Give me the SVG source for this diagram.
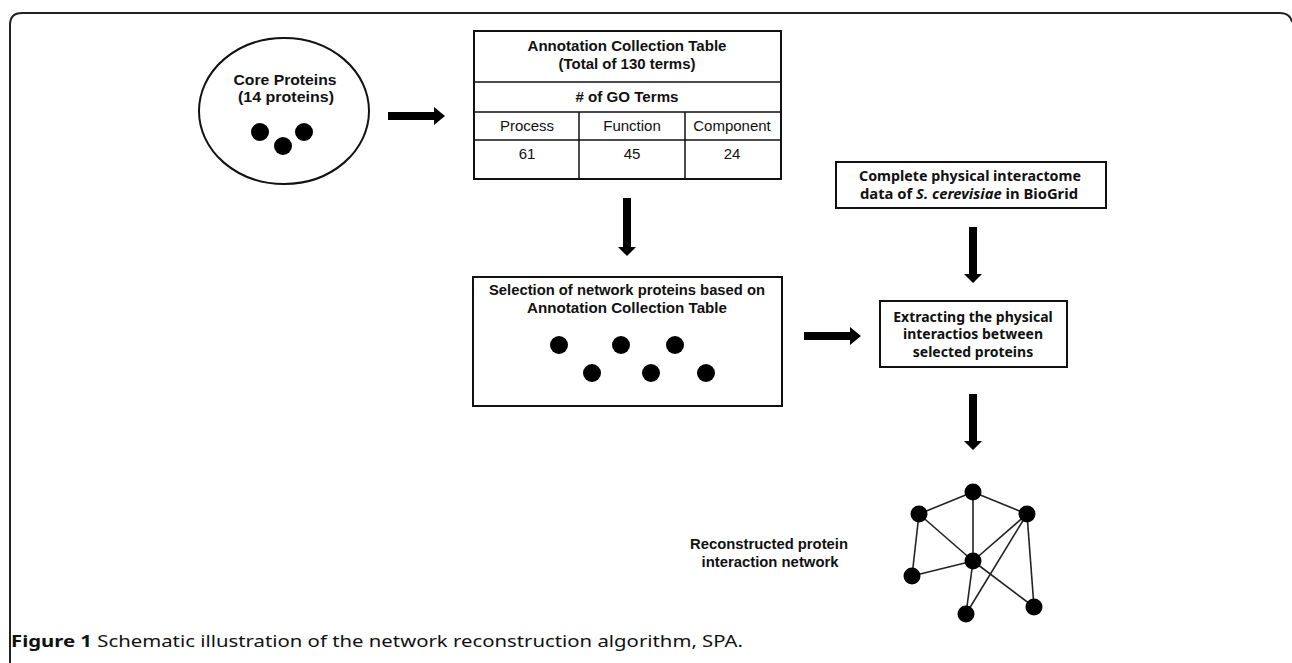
<svg xmlns="http://www.w3.org/2000/svg" width="1292" height="663" viewBox="0 0 1292 663">
<style>
.box{fill:#fff;stroke:#111;stroke-width:2}
.ln{stroke:#111;stroke-width:1.5;fill:none}
.b{font-family:"Liberation Sans",Arial,sans-serif;font-weight:bold;font-size:15px;fill:#111;text-anchor:middle}
.r{font-family:"Liberation Sans",Arial,sans-serif;font-size:15px;fill:#111;text-anchor:middle}
.m{font-family:"Noto Sans","Open Sans",sans-serif;font-weight:bold;font-size:14px;fill:#111;text-anchor:middle}
.dot{fill:#000}
.arr{fill:#000}
.edge{stroke:#222;stroke-width:1.6}
</style>
<rect x="0" y="0" width="1292" height="663" fill="#fff"/>
<path d="M10,700 V25 Q10,13 22,13 H1280 Q1290,13 1292,22" fill="none" stroke="#222" stroke-width="2"/>

<g id="core-proteins">
<ellipse cx="284" cy="111" rx="85" ry="73" class="box"/>
<text x="285" y="85" class="b" font-size="17" textLength="103" lengthAdjust="spacingAndGlyphs">Core Proteins</text>
<text x="286" y="102" class="b" font-size="17" textLength="96" lengthAdjust="spacingAndGlyphs">(14 proteins)</text>
<circle cx="260" cy="132" r="9" class="dot"/>
<circle cx="304" cy="132" r="9" class="dot"/>
<circle cx="283" cy="146" r="9" class="dot"/>
</g>

<g id="annotation-table">
<rect x="474" y="31" width="307" height="148" class="box"/>
<line x1="474" y1="82" x2="781" y2="82" class="ln"/>
<line x1="474" y1="112" x2="781" y2="112" class="ln"/>
<line x1="474" y1="140" x2="781" y2="140" class="ln"/>
<line x1="579" y1="112" x2="579" y2="179" class="ln"/>
<line x1="685" y1="112" x2="685" y2="179" class="ln"/>
<text x="627" y="51" class="b" textLength="199" lengthAdjust="spacingAndGlyphs">Annotation Collection Table</text>
<text x="627" y="69" class="b" textLength="137" lengthAdjust="spacingAndGlyphs">(Total of 130 terms)</text>
<text x="627" y="102" class="b" textLength="103" lengthAdjust="spacingAndGlyphs"># of GO Terms</text>
<text x="527" y="131" class="r">Process</text>
<text x="632" y="131" class="r">Function</text>
<text x="732" y="131" class="r">Component</text>
<text x="527" y="159" class="r">61</text>
<text x="632" y="159" class="r">45</text>
<text x="732" y="159" class="r">24</text>
</g>

<g id="selection">
<rect x="473" y="277" width="309" height="129" class="box"/>
<text x="627" y="295" class="b" textLength="276" lengthAdjust="spacingAndGlyphs">Selection of network proteins based on</text>
<text x="627" y="313" class="b" textLength="200" lengthAdjust="spacingAndGlyphs">Annotation Collection Table</text>
<circle cx="559" cy="345" r="9" class="dot"/>
<circle cx="621" cy="345" r="9" class="dot"/>
<circle cx="675" cy="345" r="9" class="dot"/>
<circle cx="592" cy="373" r="9" class="dot"/>
<circle cx="651" cy="373" r="9" class="dot"/>
<circle cx="706" cy="373" r="9" class="dot"/>
</g>

<g id="biogrid">
<rect x="836" y="162" width="270" height="46" class="box"/>
<text x="970" y="181" class="m" textLength="222" lengthAdjust="spacingAndGlyphs">Complete physical interactome</text>
<text x="969" y="199" class="m" textLength="218" lengthAdjust="spacingAndGlyphs">data of <tspan font-style="italic">S. cerevisiae</tspan>  in BioGrid</text>
</g>

<g id="extracting">
<rect x="880" y="301" width="187" height="66" class="box"/>
<text x="973" y="322" class="m">Extracting the physical</text>
<text x="973" y="339" class="m">interactios between</text>
<text x="973" y="357" class="m">selected proteins</text>
</g>

<g id="network">
<g class="edge">
<line x1="973" y1="492" x2="919" y2="514"/>
<line x1="973" y1="492" x2="1027" y2="514"/>
<line x1="973" y1="492" x2="973" y2="561"/>
<line x1="919" y1="514" x2="973" y2="561"/>
<line x1="919" y1="514" x2="912" y2="576"/>
<line x1="912" y1="576" x2="973" y2="561"/>
<line x1="973" y1="561" x2="1027" y2="514"/>
<line x1="973" y1="561" x2="966" y2="614"/>
<line x1="973" y1="561" x2="1034" y2="607"/>
<line x1="1027" y1="514" x2="966" y2="614"/>
<line x1="1027" y1="514" x2="1034" y2="607"/>
</g>
<circle cx="973" cy="492" r="8.5" class="dot"/>
<circle cx="919" cy="514" r="8.5" class="dot"/>
<circle cx="1027" cy="514" r="8.5" class="dot"/>
<circle cx="973" cy="561" r="8.5" class="dot"/>
<circle cx="912" cy="576" r="8.5" class="dot"/>
<circle cx="966" cy="614" r="8.5" class="dot"/>
<circle cx="1034" cy="607" r="8.5" class="dot"/>
<text x="769" y="549" class="b" textLength="158" lengthAdjust="spacingAndGlyphs">Reconstructed  protein</text>
<text x="770" y="567" class="b" textLength="137" lengthAdjust="spacingAndGlyphs">interaction network</text>
</g>

<g id="connectors" class="arr">
<path d="M388,112 H434 V107 L445,116 L434,125 V120 H388 Z"/>
<path d="M623,198 H631 V247 H636 L627,256 L618,247 H623 Z"/>
<path d="M804,332 H850 V327 L861,336 L850,345 V340 H804 Z"/>
<path d="M969,227 H977 V274 H982 L973,283 L964,274 H969 Z"/>
<path d="M969,394 H977 V441 H982 L973,450 L964,441 H969 Z"/>
</g>

<text x="11" y="647" font-family="'Noto Sans','Open Sans',sans-serif" font-size="16" fill="#111" textLength="732" lengthAdjust="spacingAndGlyphs"><tspan font-weight="bold">Figure 1</tspan> Schematic illustration of the network reconstruction algorithm, SPA.</text>
</svg>
